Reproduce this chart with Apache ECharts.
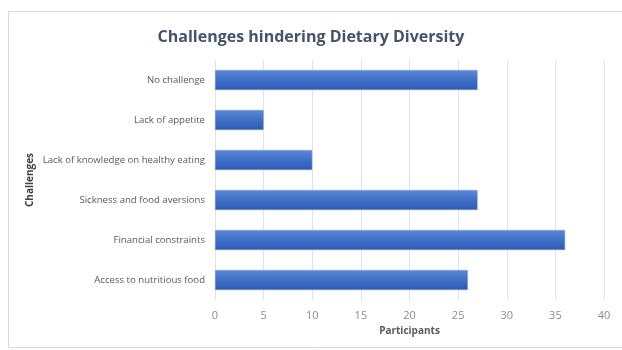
<!DOCTYPE html>
<html><head><meta charset="utf-8">
<script src="https://cdn.jsdelivr.net/npm/echarts@6/dist/echarts.min.js"></script>
<style>html,body{margin:0;padding:0;background:#fff}#c{width:622px;height:350px}</style>
</head><body><div id="c"></div>
<script>
const categories = ["Access to nutritious food","Financial constraints","Sickness and food aversions","Lack of knowledge on healthy eating","Lack of appetite","No challenge"];
const participants = [26, 36, 27, 10, 5, 27];
const xTicks = {min: 0, max: 40, interval: 5};

const chart = echarts.init(document.getElementById('c'));
const font = "Open Sans, Lato, sans-serif";
chart.setOption({
  animation: false,
  graphic: [{type:'rect', shape:{x:8.5,y:11.5,width:620,height:336}, style:{fill:'none', stroke:'#d9d9d9', lineWidth:1}}],
  title: {text: "Challenges hindering Dietary Diversity", left: 'center', top: 24,
    textStyle: {fontFamily: font, fontSize: 16, fontWeight: 'bold', color: '#44546a'}},
  grid: {left: 215, right: 18, top: 60, bottom: 50},
  xAxis: {type: 'value', min: xTicks.min, max: xTicks.max, interval: xTicks.interval,
    name: 'Participants', nameLocation: 'middle', nameGap: 26,
    nameTextStyle: {fontFamily: font, fontSize: 10, fontWeight: 'bold', color: '#595959'},
    axisLine: {show: false}, axisTick: {show: false},
    axisLabel: {fontFamily: font, fontSize: 11, color: '#8c8c8c', margin: 10},
    splitLine: {lineStyle: {color: '#e0e3ea', width: 1}}},
  yAxis: {type: 'category', data: categories,
    name: 'Challenges', nameLocation: 'middle', nameGap: 180, nameRotate: 90, nameMoveOverlap: false,
    nameTextStyle: {fontFamily: font, fontSize: 10, fontWeight: 'bold', color: '#404040'},
    axisLine: {show: true, lineStyle: {color: '#e0e3ea'}}, axisTick: {show: false},
    axisLabel: {fontFamily: font, fontSize: 9.6, color: '#595959', margin: 10}},
  series: [{type: 'bar', data: participants, barWidth: '50%',
    itemStyle: {borderColor: '#7fa0dc', borderWidth: 0.5,
      color: new echarts.graphic.LinearGradient(0,0,0,1,[
        {offset:0, color:'#5d88d6'},{offset:0.5, color:'#3f6fc7'},{offset:1, color:'#2c59b5'}])}}]
});
</script></body></html>
